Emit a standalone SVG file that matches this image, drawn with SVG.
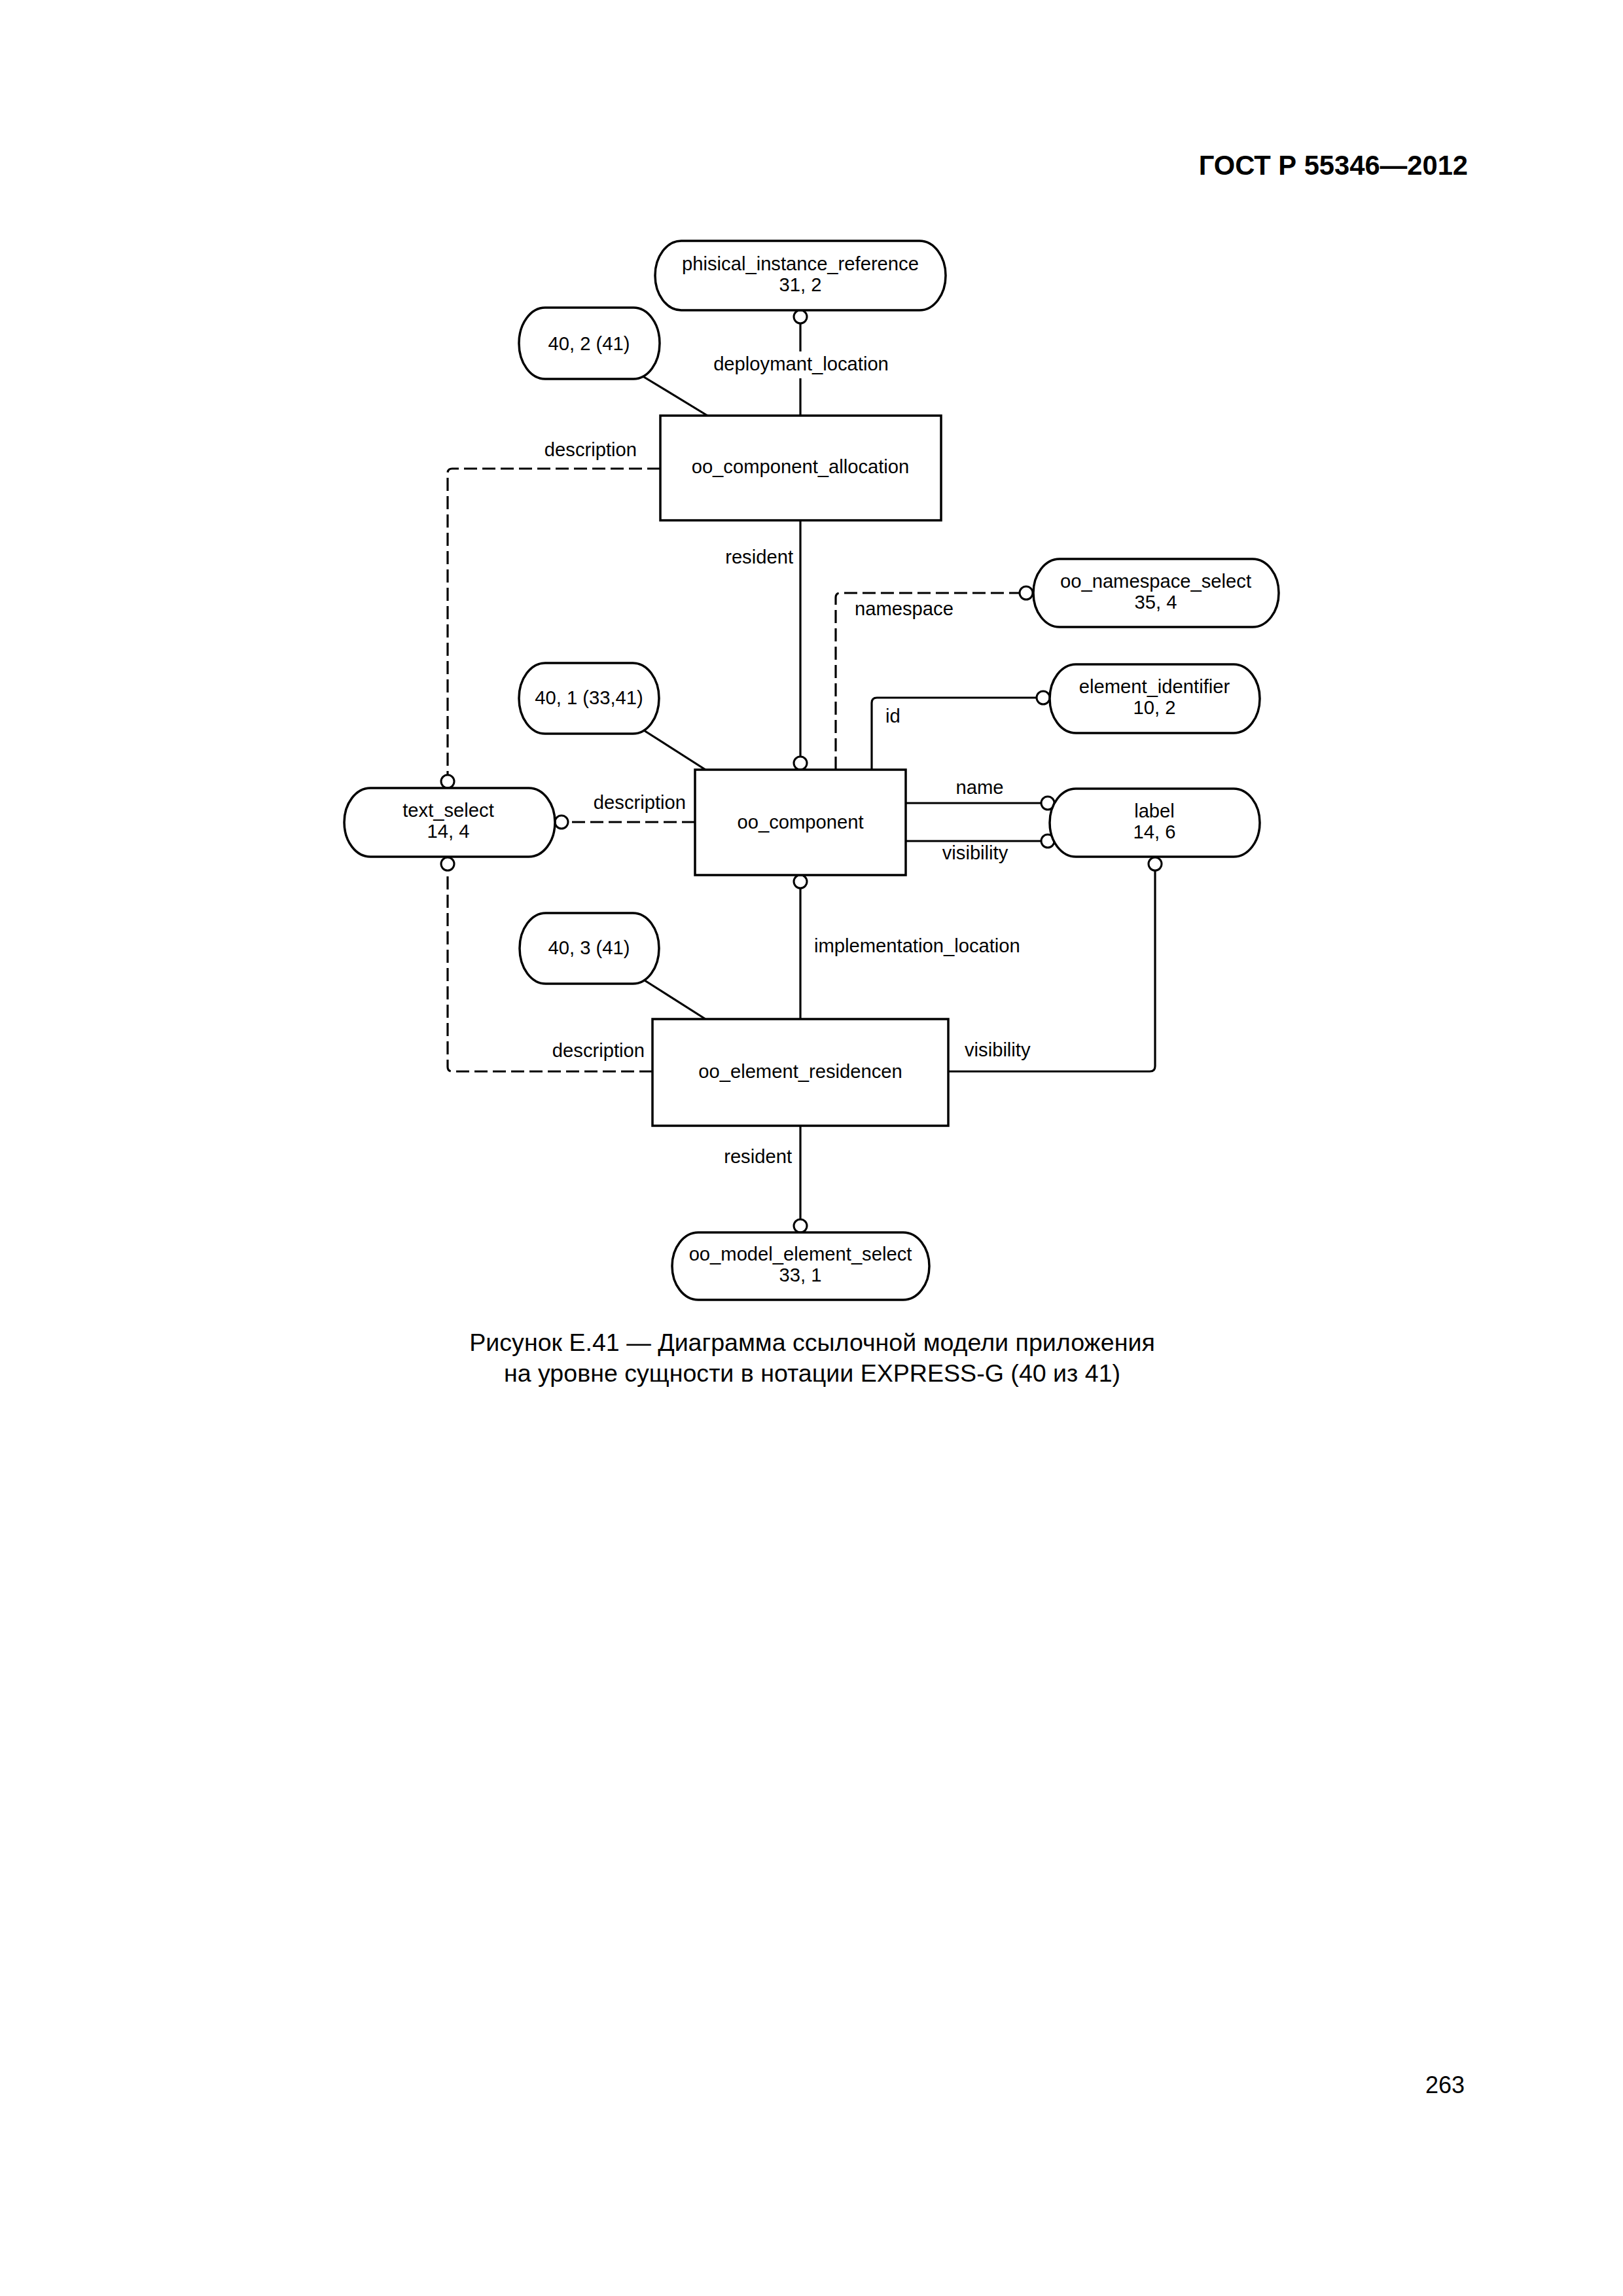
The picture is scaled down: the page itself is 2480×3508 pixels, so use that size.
<svg xmlns="http://www.w3.org/2000/svg" width="2480" height="3508" viewBox="0 0 2480 3508">
<style>
text{font-family:"Liberation Sans",Arial,sans-serif;fill:#000}
.t{font-size:29.2px}
.c{text-anchor:middle}
.e{text-anchor:end}
.node{fill:#fff;stroke:#000;stroke-width:3.5}
.ln{fill:none;stroke:#000;stroke-width:3.2}
.ds{fill:none;stroke:#000;stroke-width:3.2;stroke-dasharray:20 8}
.o{fill:#fff;stroke:#000;stroke-width:3}
</style>
<rect width="2480" height="3508" fill="#fff"/>
<text x="2243" y="267" class="e" style="font-size:41.7px;font-weight:bold">ГОСТ Р 55346—2012</text>

<g id="connectors">
  <!-- deploymant_location -->
  <path class="ln" d="M1223,494 V537 M1223,578 V635"/>
  <circle class="o" cx="1223" cy="484" r="10"/>
  <text class="t c" x="1224" y="566">deploymant_location</text>
  <!-- ref 40,2 -->
  <path class="ln" d="M979,573 L1081,635"/>
  <!-- description allocation -> text_select -->
  <path class="ds" d="M1009,716 H691 Q684,716 684,723 V1184"/>
  <circle class="o" cx="684" cy="1194" r="10"/>
  <text class="t e" x="973" y="697">description</text>
  <!-- resident allocation -> component -->
  <path class="ln" d="M1223,795 V1156"/>
  <circle class="o" cx="1223" cy="1166" r="10"/>
  <text class="t e" x="1212" y="861">resident</text>
  <!-- namespace -->
  <path class="ds" d="M1277,1176 V913 Q1277,906 1284,906 H1558"/>
  <circle class="o" cx="1568" cy="906" r="10"/>
  <text class="t" x="1306" y="940">namespace</text>
  <!-- ref 40,1 -->
  <path class="ln" d="M984,1116 L1078,1176"/>
  <!-- id -->
  <path class="ln" d="M1332,1176 V1074 Q1332,1066 1340,1066 H1584"/>
  <circle class="o" cx="1594" cy="1066" r="10"/>
  <text class="t" x="1353" y="1104">id</text>
  <!-- description component -> text_select -->
  <path class="ds" d="M1062,1256 H868"/>
  <circle class="o" cx="858" cy="1256" r="10"/>
  <text class="t e" x="1048" y="1236">description</text>
  <!-- name -->
  <path class="ln" d="M1384,1227 H1591"/>
  <circle class="o" cx="1601" cy="1227" r="10"/>
  <text class="t c" x="1497" y="1213">name</text>
  <!-- visibility component -> label -->
  <path class="ln" d="M1384,1285 H1591"/>
  <circle class="o" cx="1601" cy="1285" r="10"/>
  <text class="t c" x="1490" y="1313">visibility</text>
  <!-- description residencen -> text_select -->
  <path class="ds" d="M997,1637 H691 Q684,1637 684,1630 V1330"/>
  <circle class="o" cx="684" cy="1320" r="10"/>
  <text class="t e" x="985" y="1615">description</text>
  <!-- visibility residencen -> label -->
  <path class="ln" d="M1449,1637 H1757 Q1765,1637 1765,1629 V1330"/>
  <circle class="o" cx="1765" cy="1320" r="10"/>
  <text class="t" x="1474" y="1614">visibility</text>
  <!-- implementation_location -->
  <path class="ln" d="M1223,1557 V1357"/>
  <circle class="o" cx="1223" cy="1347" r="10"/>
  <text class="t" x="1244" y="1455">implementation_location</text>
  <!-- ref 40,3 -->
  <path class="ln" d="M982,1496 L1078,1557"/>
  <!-- resident residencen -> model_element_select -->
  <path class="ln" d="M1223,1720 V1863"/>
  <circle class="o" cx="1223" cy="1873" r="10"/>
  <text class="t e" x="1210" y="1777">resident</text>
</g>

<g id="phisical_instance_reference">
  <rect class="node" x="1001" y="368" width="444" height="106" rx="40" ry="53"/>
  <text class="t c" x="1223" y="413">phisical_instance_reference</text>
  <text class="t c" x="1223" y="445">31, 2</text>
</g>
<g id="ref_40_2">
  <rect class="node" x="793" y="470" width="215" height="109" rx="40" ry="54.5"/>
  <text class="t c" x="900" y="535">40, 2 (41)</text>
</g>
<g id="oo_component_allocation">
  <rect class="node" x="1009" y="635" width="429" height="160"/>
  <text class="t c" x="1223" y="723">oo_component_allocation</text>
</g>
<g id="oo_namespace_select">
  <rect class="node" x="1579" y="854" width="375" height="104" rx="40" ry="52"/>
  <text class="t c" x="1766" y="898">oo_namespace_select</text>
  <text class="t c" x="1766" y="930">35, 4</text>
</g>
<g id="ref_40_1">
  <rect class="node" x="793" y="1013" width="214" height="108" rx="40" ry="54"/>
  <text class="t c" x="900" y="1076">40, 1 (33,41)</text>
</g>
<g id="element_identifier">
  <rect class="node" x="1604" y="1015" width="321" height="105" rx="40" ry="52.5"/>
  <text class="t c" x="1764" y="1059">element_identifier</text>
  <text class="t c" x="1764" y="1091">10, 2</text>
</g>
<g id="text_select">
  <rect class="node" x="526" y="1204" width="322" height="105" rx="40" ry="52.5"/>
  <text class="t c" x="685" y="1248">text_select</text>
  <text class="t c" x="685" y="1280">14, 4</text>
</g>
<g id="oo_component">
  <rect class="node" x="1062" y="1176" width="322" height="161"/>
  <text class="t c" x="1223" y="1266">oo_component</text>
</g>
<g id="label">
  <rect class="node" x="1604" y="1205" width="321" height="104" rx="40" ry="52"/>
  <text class="t c" x="1764" y="1249">label</text>
  <text class="t c" x="1764" y="1281">14, 6</text>
</g>
<g id="ref_40_3">
  <rect class="node" x="794" y="1395" width="213" height="108" rx="40" ry="54"/>
  <text class="t c" x="900" y="1458">40, 3 (41)</text>
</g>
<g id="oo_element_residencen">
  <rect class="node" x="997" y="1557" width="452" height="163"/>
  <text class="t c" x="1223" y="1647">oo_element_residencen</text>
</g>
<g id="oo_model_element_select">
  <rect class="node" x="1027" y="1883" width="393" height="103" rx="40" ry="51.5"/>
  <text class="t c" x="1223" y="1926">oo_model_element_select</text>
  <text class="t c" x="1223" y="1958">33, 1</text>
</g>

<text x="1241" y="2064" class="c" style="font-size:37.6px">Рисунок Е.41 — Диаграмма ссылочной модели приложения</text>
<text x="1241" y="2111" class="c" style="font-size:37.6px">на уровне сущности в нотации EXPRESS-G (40 из 41)</text>
<text x="2238" y="3198" class="e" style="font-size:36px">263</text>
</svg>
